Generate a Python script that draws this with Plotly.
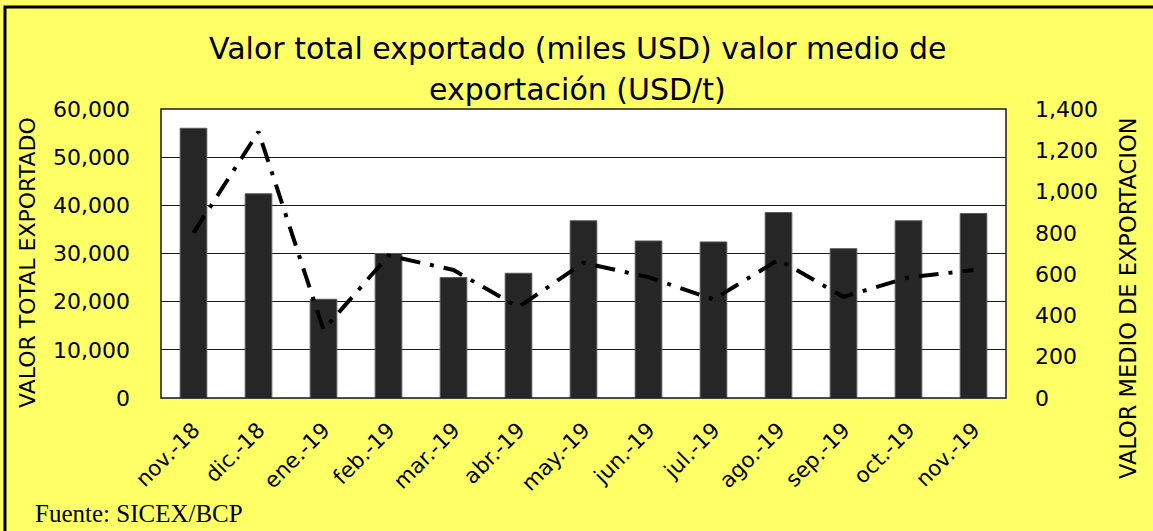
import plotly.graph_objects as go

months = ["nov.-18", "dic.-18", "ene.-19", "feb.-19", "mar.-19", "abr.-19", "may.-19",
          "jun.-19", "jul.-19", "ago.-19", "sep.-19", "oct.-19", "nov.-19"]
valor_total = [56000, 42400, 20500, 30000, 25000, 25900, 36800,
               32600, 32400, 38500, 31000, 36800, 38300]
valor_medio = [800, 1290, 330, 690, 620, 440, 655,
               585, 478, 670, 490, 584, 620]

left_ticks = [0, 10000, 20000, 30000, 40000, 50000, 60000]
right_ticks = [0, 200, 400, 600, 800, 1000, 1200, 1400]

FONT = "DejaVu Sans"
YELLOW = "#FFFF66"

fig = go.Figure()
fig.add_trace(go.Bar(
    x=months, y=valor_total, name="Valor total exportado",
    marker=dict(color="#262626", line=dict(color="#5a5a5a", width=1)),
    yaxis="y",
))
fig.add_trace(go.Scatter(
    x=months, y=valor_medio, name="Valor medio de exportación",
    mode="lines", line=dict(color="black", width=4, dash="20px,10px,4px,10px"),
    yaxis="y2",
))

W, H = 1153, 531
L, R, T, B = 161, 1006, 109, 398

def px(x):
    return (x - L) / (R - L)

def py(y):
    return (B - y) / (B - T)

fig.update_layout(
    width=W, height=H,
    margin=dict(l=L, r=W - R, t=T, b=H - B),
    paper_bgcolor=YELLOW,
    plot_bgcolor="white",
    showlegend=False,
    bargap=0.59,
    font=dict(family=FONT, color="black", size=21),
    xaxis=dict(
        tickangle=-45, tickfont=dict(size=21.5, family=FONT),
        showgrid=False, showline=True, linecolor="#c8c8c8", linewidth=1,
        ticks="", ticklabelstandoff=10,
    ),
    yaxis=dict(
        range=[0, 60000], tickvals=left_ticks,
        ticktext=[f"{v:,}" for v in left_ticks],
        tickfont=dict(size=22, family=FONT),
        showgrid=True, gridcolor="#1a1a1a", gridwidth=1,
        zeroline=False, showline=False, ticks="",
        ticklabelstandoff=30,
    ),
    yaxis2=dict(
        range=[0, 1400], tickvals=right_ticks,
        ticktext=[f"{v:,}" for v in right_ticks],
        tickfont=dict(size=22, family=FONT),
        overlaying="y", side="right", showgrid=False, zeroline=False,
        showline=False, ticks="", ticklabelstandoff=28,
    ),
    shapes=[
        dict(type="rect", xref="paper", yref="paper", x0=0, x1=1, y0=0, y1=1,
             line=dict(color="#1a1a1a", width=1.5), layer="above"),
        dict(type="rect", xref="paper", yref="paper",
             x0=px(5), x1=px(1170), y0=py(560), y1=py(7),
             line=dict(color="black", width=3)),
    ],
    annotations=[
        dict(text="Valor total exportado (miles USD) valor medio de", xref="paper", yref="paper",
             x=px(577), y=py(48), xanchor="center", yanchor="middle", showarrow=False,
             font=dict(size=30, family=FONT)),
        dict(text="exportación (USD/t)", xref="paper", yref="paper",
             x=px(577), y=py(89), xanchor="center", yanchor="middle", showarrow=False,
             font=dict(size=30, family=FONT)),
        dict(text="VALOR TOTAL EXPORTADO", xref="paper", yref="paper",
             x=px(27), y=py(263), xanchor="center", yanchor="middle", showarrow=False,
             textangle=-90, font=dict(size=22, family=FONT)),
        dict(text="VALOR MEDIO DE EXPORTACION", xref="paper", yref="paper",
             x=px(1128), y=py(298), xanchor="center", yanchor="middle", showarrow=False,
             textangle=-90, font=dict(size=22.5, family=FONT)),
        dict(text="Fuente: SICEX/BCP", xref="paper", yref="paper",
             x=px(33), y=py(513), xanchor="left", yanchor="middle", showarrow=False,
             font=dict(size=25, family="Liberation Serif")),
    ],
)

fig.write_html("out.html", config={"displayModeBar": False},
               post_script="document.body.style.margin='0';")
